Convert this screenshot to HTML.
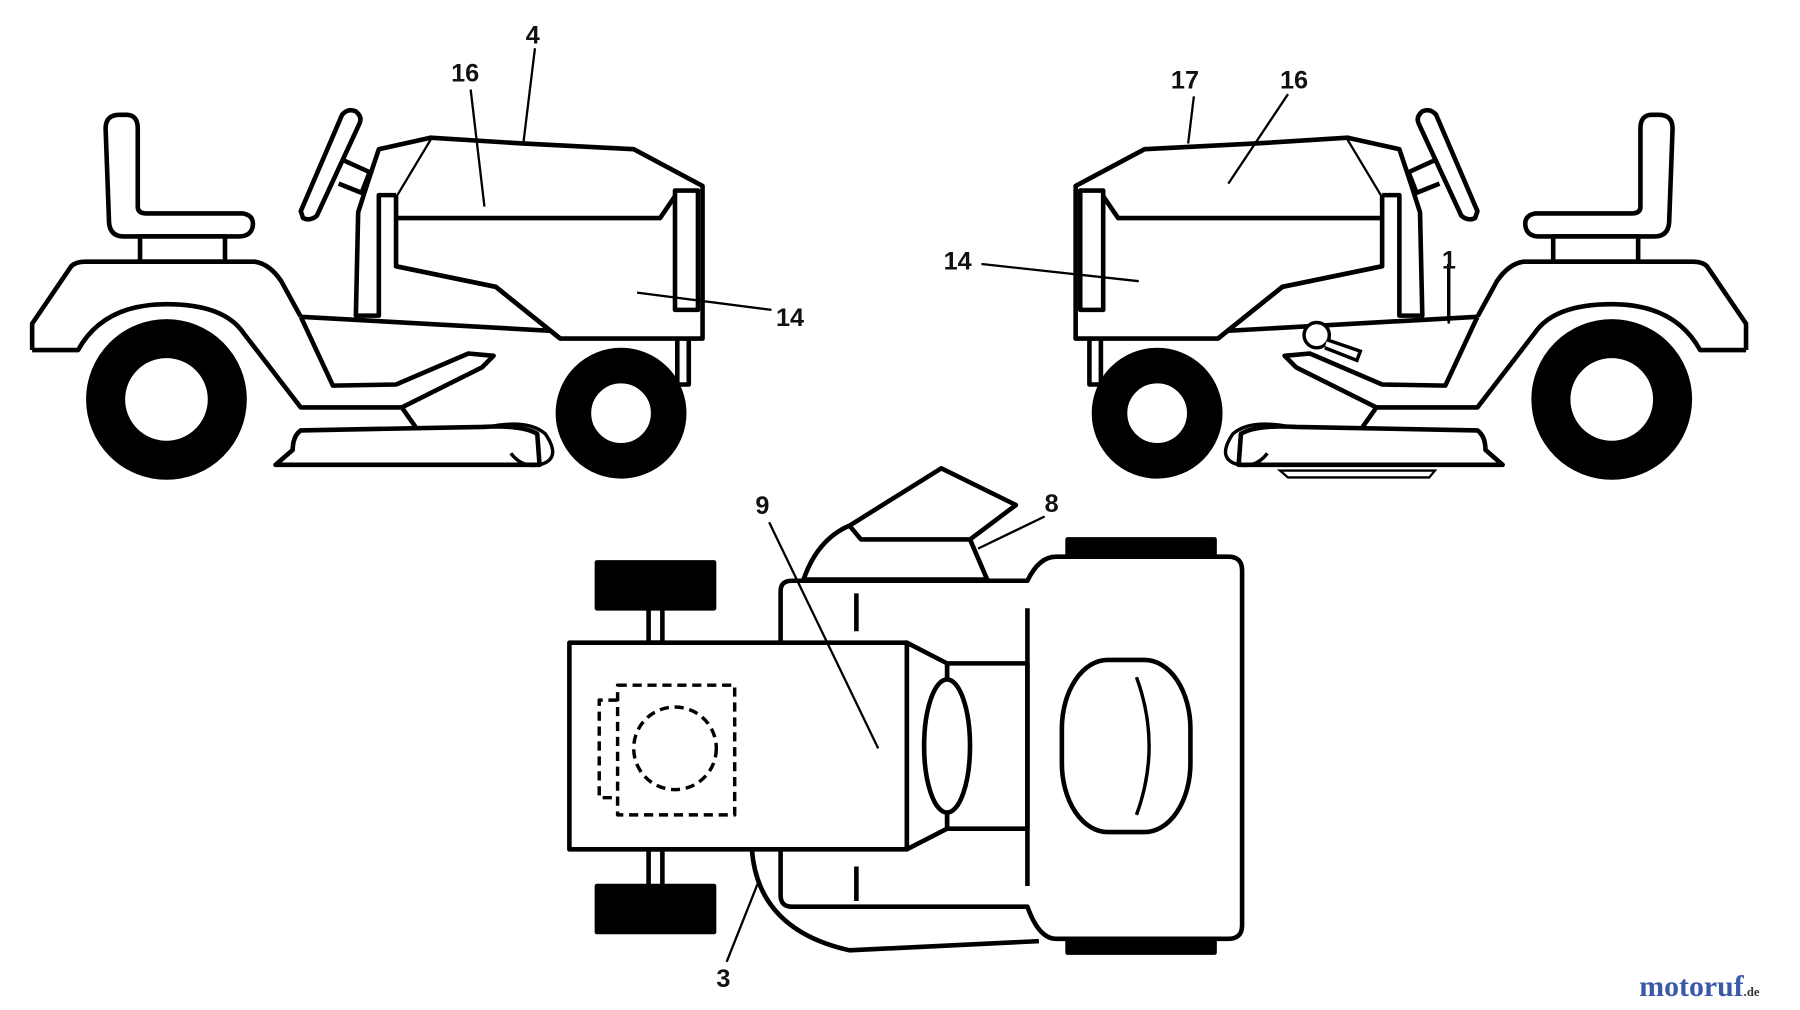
<!DOCTYPE html>
<html><head><meta charset="utf-8"><style>
html,body{margin:0;padding:0;background:#fff;}
svg{display:block;}
text{font-family:"Liberation Sans",sans-serif;font-weight:bold;font-size:22px;fill:#111;}
</style></head><body>
<svg width="1800" height="1010" viewBox="0 0 1568 880" preserveAspectRatio="none" xmlns="http://www.w3.org/2000/svg">
<defs>
<g id="tr" fill="#fff" stroke="#000" stroke-width="4" stroke-linejoin="round">
  <!-- seat -->
  <path d="M92,112 Q92,100 104,100 L110,100 Q120,100 120,112 L120,180 Q120,186 128,186 L212,186 Q222,188 220,198 Q218,206 208,206 L108,206 Q96,206 95,194 Z"/>
  <rect x="122" y="206" width="74" height="22"/>
  <!-- body/fender -->
  <path d="M28,305 L28,282 L62,232 Q66,228 74,228 L222,228 Q235,230 245,245 L262,276 L600,295 L600,335 L590,335 L590,295"/>
  <path d="M28,305 L68,305 Q90,265 145,265 Q195,265 212,290 L262,355 L350,355 L420,320 L430,310 L408,308 L345,335 L290,336 L262,276"/>
  <!-- rear wheel -->
  <circle cx="145" cy="348" r="68" fill="#000"/>
  <circle cx="145" cy="348" r="38" fill="#fff"/>
  <!-- front wheel -->
  <circle cx="541" cy="360" r="55" fill="#000"/>
  <circle cx="541" cy="360" r="28" fill="#fff"/>
  <!-- hood -->
  <path d="M375,120 L455,125 L552,130 L612,162 L612,295 L488,295 L432,250 L345,232 L345,170 Z"/>
  <path d="M345,190 L575,190 L590,168" fill="none"/>
  <path d="M345,232 L432,250 L488,295" fill="none"/>
  <rect x="588" y="166" width="20" height="104"/>
  <path d="M375,120 L330,130 L320,160 L312,185 L310,275 L330,275 L330,170 L345,170" />
  <!-- steering -->
  <path d="M262,184 L298,100 Q303,94 310,97 Q316,102 313,108 L276,188 Q270,193 264,190 Z"/>
  <path d="M300,140 L322,150 L315,168 L295,160"/>
  <!-- deck -->
  <path d="M240,405 L470,405 L468,378 Q455,370 420,372 L262,375 Q255,380 255,392 Z"/>
  <path d="M425,372 Q460,365 475,378 Q490,400 470,405 Q455,408 445,395" fill="none" stroke-width="3"/>
  <path d="M350,355 L362,372" fill="none"/>
</g>
</defs>

<use href="#tr"/>
<g transform="translate(1549,0) scale(-1,1)">
  <use href="#tr"/>
</g>
<!-- extra right details -->
<circle cx="1147" cy="292" r="11" fill="#fff" stroke="#000" stroke-width="3"/>
<path d="M1156,296 L1185,306 L1182,314 L1154,303" fill="#fff" stroke="#000" stroke-width="3"/>
<path d="M1115,410 L1250,410 L1245,416 L1122,416 Z" fill="none" stroke="#000" stroke-width="2"/>
<path d="M1262,230 L1262,280" stroke="#000" stroke-width="3"/>

<!-- top view -->
<g fill="#fff" stroke="#000" stroke-width="4" stroke-linejoin="round">
  <path d="M700,505 Q712,470 740,458 L820,408 L885,440 L845,470 L860,505 Z"/>
  <path d="M740,458 L750,470 L845,470" fill="none"/>
  <path d="M655,740 Q660,810 740,828 L905,820" fill="none"/>
  <path d="M680,515 Q680,506 690,506 L895,506 Q905,485 920,485 L1070,485 Q1082,485 1082,497 L1082,806 Q1082,818 1070,818 L920,818 Q905,818 895,790 L690,790 Q680,790 680,780 Z"/>
  <rect x="930" y="470" width="128" height="15" fill="#000"/>
  <rect x="930" y="818" width="128" height="12" fill="#000"/>
  <rect x="825" y="578" width="70" height="144"/>
  <path d="M895,530 L895,772" fill="none"/>
  <path d="M746,517 L746,550 M746,755 L746,785" fill="none"/>
  <rect x="925" y="575" width="112" height="150" rx="40" ry="60"/>
  <path d="M990,590 Q1012,650 990,710" fill="none" stroke-width="3"/>
  <rect x="520" y="490" width="102" height="40" fill="#000"/>
  <rect x="520" y="772" width="102" height="40" fill="#000"/>
  <rect x="565" y="530" width="12" height="30"/>
  <rect x="565" y="740" width="12" height="32"/>
  <rect x="496" y="560" width="294" height="180"/>
  <path d="M790,560 L825,578 L825,722 L790,740 Z"/>
  <ellipse cx="825" cy="650" rx="20" ry="58"/>
  <rect x="538" y="597" width="102" height="113" fill="none" stroke-width="3" stroke-dasharray="8,5"/>
  <circle cx="588" cy="652" r="36" fill="none" stroke-width="3" stroke-dasharray="8,5"/>
  <path d="M538,610 L522,610 L522,695 L538,695" fill="none" stroke-width="3" stroke-dasharray="8,5"/>
</g>

<!-- leaders -->
<g stroke="#000" stroke-width="2" fill="none">
  <line x1="466" y1="42" x2="456" y2="124"/>
  <line x1="410" y1="78" x2="422" y2="180"/>
  <line x1="555" y1="255" x2="672" y2="270"/>
  <line x1="1040" y1="84" x2="1035" y2="125"/>
  <line x1="1122" y1="82" x2="1070" y2="160"/>
  <line x1="855" y1="230" x2="992" y2="245"/>
  <line x1="1262" y1="238" x2="1262" y2="282"/>
  <line x1="670" y1="455" x2="765" y2="652"/>
  <line x1="910" y1="450" x2="852" y2="478"/>
  <line x1="633" y1="838" x2="660" y2="770"/>
</g>
<text x="458" y="38">4</text>
<text x="393" y="71">16</text>
<text x="676" y="284">14</text>
<text x="1020" y="77">17</text>
<text x="1115" y="77">16</text>
<text x="822" y="235">14</text>
<text x="1256" y="234">1</text>
<text x="658" y="448">9</text>
<text x="910" y="446">8</text>
<text x="624" y="860">3</text>
<text x="1428" y="868" style="font-family:'Liberation Serif',serif;font-size:26px;font-weight:bold;fill:#3a5aa8">motoruf<tspan style="font-size:11px;fill:#333">.de</tspan></text>
</svg>
</body></html>
